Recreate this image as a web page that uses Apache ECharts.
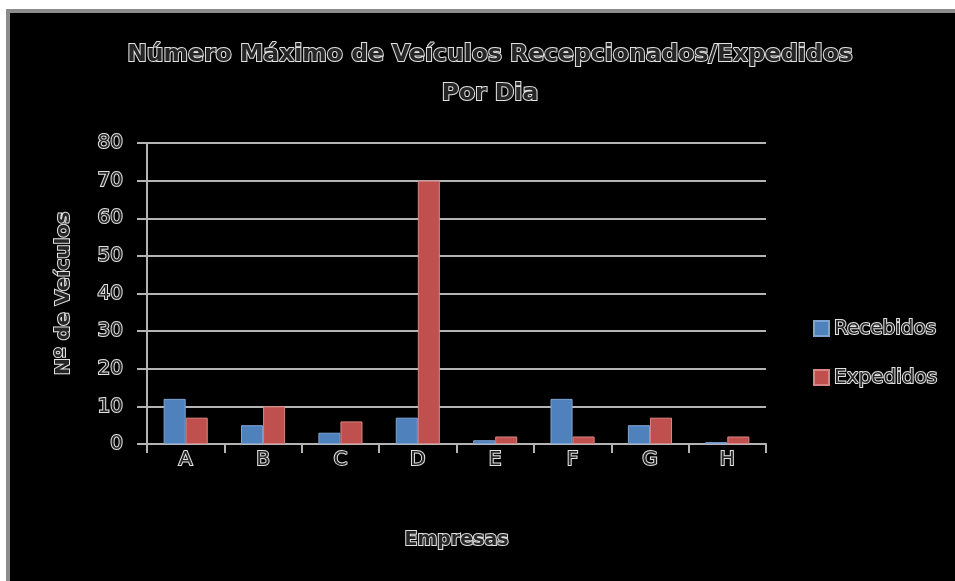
<!DOCTYPE html>
<html>
<head>
<meta charset="utf-8">
<script src="https://cdn.jsdelivr.net/npm/echarts@6/dist/echarts.min.js"></script>
<style>
  html, body { margin: 0; padding: 0; background: #ffffff; }
  #frame {
    position: absolute; left: 6px; top: 9px; width: 949px; height: 572px;
    box-sizing: border-box; background: #000000;
    border-left: 4px solid #8c8c8c; border-top: 4px solid #8c8c8c;
  }
  #chart { position: absolute; left: 0; top: 0; width: 955px; height: 581px; }
</style>
</head>
<body>
<div id="frame"></div>
<div id="chart"></div>
<script>
// Companies and daily maxima of vehicles received / dispatched
const empresas = ['A', 'B', 'C', 'D', 'E', 'F', 'G', 'H'];
const recebidos = [12, 5, 3, 7, 1, 12, 5, 0.5];
const expedidos = [7, 10, 6, 70, 2, 2, 7, 2];
const yTicks = { min: 0, max: 80, interval: 10 };

const fontFamily = '"DejaVu Sans", sans-serif';
// outlined lettering: dark fill with a pale rim
const outlined = (size, weight) => ({
  color: '#262626',
  textBorderColor: '#e2e2e2',
  textBorderWidth: 2,
  fontFamily: fontFamily,
  fontSize: size,
  fontWeight: weight
});

const chart = echarts.init(document.getElementById('chart'), null, { renderer: 'canvas' });

chart.setOption({
  backgroundColor: 'transparent',
  animation: false,
  title: {
    text: 'Número Máximo de Veículos Recepcionados/Expedidos\nPor Dia',
    left: 485,
    textAlign: 'center',
    top: 30,
    textStyle: Object.assign(outlined(23.5, 'bold'), { lineHeight: 39 })
  },
  legend: {
    orient: 'vertical',
    left: 808,
    top: 312,
    itemWidth: 15,
    itemHeight: 15,
    itemGap: 26,
    icon: 'rect',
    textStyle: Object.assign(outlined(20, 'normal'), { lineHeight: 23 }),
    data: ['Recebidos', 'Expedidos']
  },
  grid: { left: 147, right: 189, top: 143, bottom: 137 },
  xAxis: {
    type: 'category',
    data: empresas,
    name: 'Empresas',
    nameLocation: 'middle',
    nameGap: 87,
    nameTextStyle: outlined(19, 'bold'),
    axisLine: { lineStyle: { color: '#b4b4b4', width: 2 } },
    axisTick: { show: true, length: 9, lineStyle: { color: '#b4b4b4', width: 2 } },
    axisLabel: Object.assign(outlined(20, 'normal'), { margin: 6 })
  },
  yAxis: {
    type: 'value',
    min: yTicks.min,
    max: yTicks.max,
    interval: yTicks.interval,
    name: 'Nº de Veículos',
    nameLocation: 'middle',
    nameGap: 73,
    nameRotate: 90,
    nameTextStyle: outlined(20, 'bold'),
    axisLine: { show: true, lineStyle: { color: '#b4b4b4', width: 2 } },
    axisTick: { show: true, length: 10, lineStyle: { color: '#b4b4b4', width: 2 } },
    splitLine: { show: true, lineStyle: { color: '#b4b4b4', width: 2 } },
    axisLabel: Object.assign(outlined(20, 'normal'), { margin: 24 })
  },
  series: [
    {
      name: 'Recebidos',
      type: 'bar',
      data: recebidos,
      barGap: '0%',
      barCategoryGap: '43%',
      itemStyle: { color: '#4f81bd', borderColor: '#7fa3d3', borderWidth: 1 }
    },
    {
      name: 'Expedidos',
      type: 'bar',
      data: expedidos,
      itemStyle: { color: '#c0504d', borderColor: '#d98583', borderWidth: 1 }
    }
  ]
});
</script>
</body>
</html>
